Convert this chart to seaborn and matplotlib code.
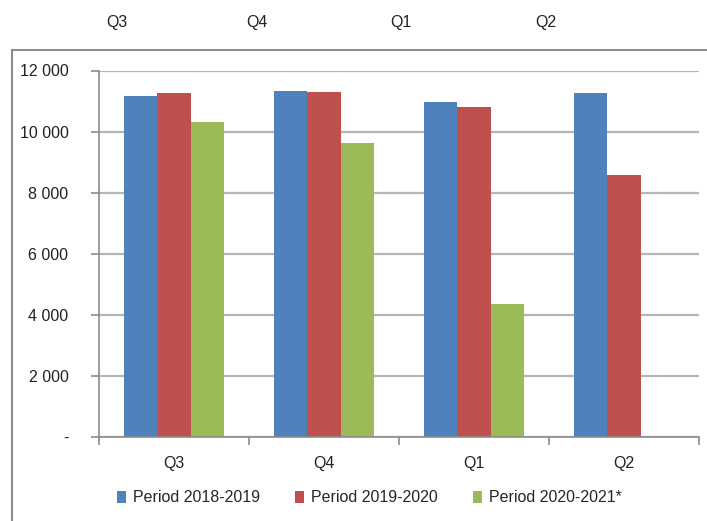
import matplotlib
matplotlib.use('Agg')
import matplotlib.pyplot as plt
from matplotlib.patches import Rectangle
from matplotlib.ticker import FuncFormatter
import pandas as pd
import seaborn as sns

# values
quarters = ['Q3', 'Q4', 'Q1', 'Q2']
periods = ['Period 2018-2019', 'Period 2019-2020', 'Period 2020-2021*']
p2018 = [11180, 11340, 10980, 11250]
p2019 = [11250, 11310, 10820, 8590]
p2020 = [10330, 9610, 4360, None]
yticks = [0, 2000, 4000, 6000, 8000, 10000, 12000]

colors = ['#4F81BD', '#C0504D', '#9BBB59']

rows = []
for name, vals in zip(periods, [p2018, p2019, p2020]):
    for q, v in zip(quarters, vals):
        rows.append({'quarter': q, 'period': name, 'value': v})
df = pd.DataFrame(rows)

sns.set_theme(style='white')
plt.rcParams['font.family'] = ['Liberation Sans', 'DejaVu Sans']

W, H = 707, 521
fig = plt.figure(figsize=(W / 100, H / 100), dpi=100)
ax = fig.add_axes([99 / W, 1 - 437 / H, 600 / W, (437 - 70.5) / H])

sns.barplot(data=df, x='quarter', y='value', hue='period', order=quarters,
            hue_order=periods, palette=colors, width=0.67, gap=0,
            linewidth=0, saturation=1, ax=ax)

ax.set_ylim(0, 12000)
ax.set_xlim(-0.5, 3.5)
ax.set_yticks(yticks)
ax.yaxis.set_major_formatter(FuncFormatter(
    lambda v, p: '-' if v == 0 else f'{int(v):,}'.replace(',', ' ')))
ax.set_axisbelow(True)
ax.grid(axis='y', color='#b5b5b5', linewidth=1.6)
ax.set_xlabel('')
ax.set_ylabel('')

for s in ['top', 'right']:
    ax.spines[s].set_visible(False)
for s in ['left', 'bottom']:
    ax.spines[s].set_color('#8c8c8c')
    ax.spines[s].set_linewidth(1.2)

# category boundary ticks on x, labels at centres
ax.set_xticks([-0.5, 0.5, 1.5, 2.5, 3.5])
ax.set_xticklabels([])
ax.set_xticks([0, 1, 2, 3], minor=True)
ax.set_xticklabels(quarters, minor=True)
ax.tick_params(axis='x', which='major', bottom=True, length=6, width=1.2,
               color='#8c8c8c', direction='out')
ax.tick_params(axis='x', which='minor', bottom=False, length=0, pad=14,
               labelsize=11.5, labelcolor='#222222')
ax.tick_params(axis='y', left=True, length=6, width=1.2, color='#8c8c8c',
               direction='out', pad=16, labelsize=11.5, labelcolor='#222222')

sns.move_legend(ax, 'center', bbox_to_anchor=(369 / W, 1 - 498 / H),
                bbox_transform=fig.transFigure, ncol=3, frameon=False,
                title=None, fontsize=11.5, handlelength=0.6, handleheight=0.7,
                handletextpad=0.4, columnspacing=2.2)

# outer frame, cut by the right and bottom edges like the source
fig.patches.append(Rectangle((12 / W, -0.1), 1.2, 1.1 - 50 / H,
                             transform=fig.transFigure, fill=False,
                             edgecolor='#8c8c8c', linewidth=1.5))

# quarter labels above the frame
for q, x in zip(quarters, [117, 257, 401, 546]):
    fig.text(x / W, 1 - 22 / H, q, ha='center', va='center',
             fontsize=11.5, color='#222222')

fig.savefig('out.png', dpi=100)
